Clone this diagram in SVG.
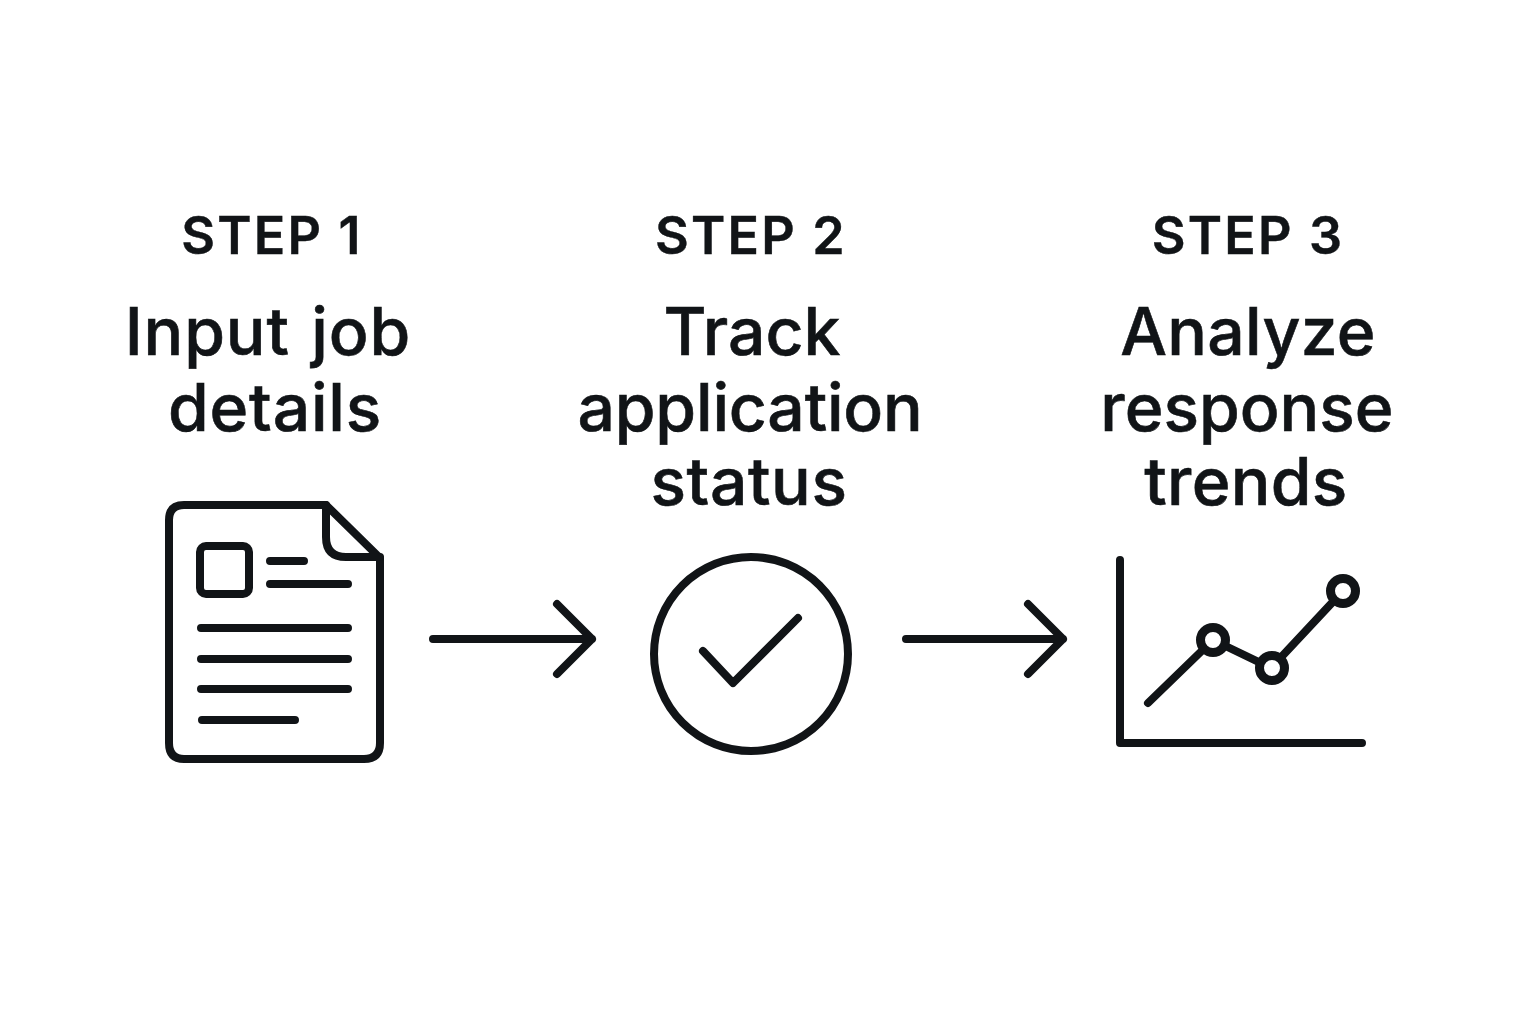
<svg xmlns="http://www.w3.org/2000/svg" width="1536" height="1024" viewBox="0 0 1536 1024">
<style>
text{font-family:Inter,"Liberation Sans",sans-serif;fill:#111417;text-anchor:middle}
.s{font-size:52px;font-weight:600;letter-spacing:2.2px;stroke:#111417;stroke-width:.4px}
.t{font-size:66px;font-weight:500;stroke:#111417;stroke-width:.6px}
.i{fill:none;stroke:#111417;stroke-width:8px;stroke-linecap:round;stroke-linejoin:round}
.d{fill:#fff;stroke-width:9px}
</style>
<rect width="1536" height="1024" fill="#fff"/>
<g id="step1">
<text class="s" x="272" y="254">STEP 1</text>
<text class="t" x="268" y="355" word-spacing="3" letter-spacing=".9">Input job</text>
<text class="t" x="275" y="431" letter-spacing=".8">details</text>
<g class="i">
<path d="M326 505H184Q169 505 169 520V743Q169 759 184 759H364Q380 759 380 743V558L326 505Z"/>
<path d="M326 505V537Q326 557 346 557H380"/>
<rect x="200" y="546" width="49" height="48" rx="6"/>
<path d="M270 561H304M270 584H348M201 628H348M201 659H348M201 689H348M202 720H295"/>
</g>
</g>
<g id="step2">
<text class="s" x="751" y="254">STEP 2</text>
<text class="t" x="752" y="355">Track</text>
<text class="t" x="750" y="431" letter-spacing="-.2">application</text>
<text class="t" x="749" y="505" letter-spacing=".6">status</text>
<g class="i">
<circle cx="751" cy="654" r="97"/>
<path d="M703 651L733 683L798 618"/>
</g>
</g>
<g id="step3">
<text class="s" x="1248" y="254">STEP 3</text>
<text class="t" x="1248" y="355" letter-spacing=".3">Analyze</text>
<text class="t" x="1247" y="431">response</text>
<text class="t" x="1246" y="505" letter-spacing=".3">trends</text>
<g class="i">
<path d="M1120 560V743H1362"/>
<path d="M1148 703L1213 640L1271 668L1343 591"/>
<circle class="d" cx="1213" cy="640" r="12.5"/>
<circle class="d" cx="1272" cy="668" r="12.5"/>
<circle class="d" cx="1343" cy="591" r="12.5"/>
</g>
</g>
<g id="connectors" class="i">
<path d="M433 639H592M557 604L592 639L557 674"/>
<path d="M906 639H1063M1028 604L1063 639L1028 674"/>
</g>
</svg>
